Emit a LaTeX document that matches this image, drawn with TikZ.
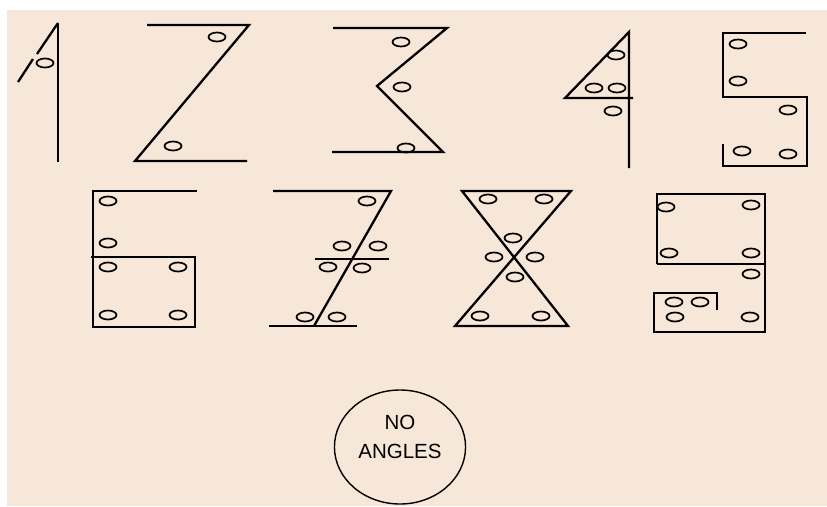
\documentclass[tikz,border=0pt]{standalone}
\usepackage{fontspec}
\setmainfont{Liberation Sans}
\usepackage{tikz}
\usetikzlibrary{shapes.geometric}
\definecolor{paper}{RGB}{247,231,217}

\begin{document}
\begin{tikzpicture}[x=1pt, y=-1pt,
    stroke/.style={draw=black, line width=2.3pt, line join=miter},
    hole/.style={ellipse, draw=black, line width=1.7pt, minimum width=17pt, minimum height=9pt, inner sep=0pt},
    sign/.style={circle, draw=black, line width=1.4pt, minimum size=114pt, xscale=1.15, inner sep=0pt},
    label/.style={font=\fontsize{20.5}{29}\selectfont, align=center}
]
    \useasboundingbox (0,0) rectangle (827,506);
    \fill[paper] (7,10) rectangle (827,506);

    % One
    \draw[stroke] (58,23) -- (58,162);
    \draw[stroke] (58,23) -- (37,54);
    \draw[stroke] (33,59) -- (18,82);
    \node[hole] (one1) at (45,63) {};

    % Two
    \draw[stroke] (147,25) -- (249,25) -- (135,161) -- (247,161);
    \node[hole] (two1) at (217,37) {};
    \node[hole] (two2) at (173,146) {};

    % Three
    \draw[stroke] (333,28) -- (447,28) -- (377,86) -- (443,152) -- (332,152);
    \foreach \p [count=\i] in {(401,42), (402,87), (406,148)}
        \node[hole] (three\i) at \p {};

    % Four
    \draw[stroke] (629,168) -- (629,32) -- (565,98) -- (633,98);
    \foreach \p [count=\i] in {(616,55), (594,88), (617,88), (613,111)}
        \node[hole] (four\i) at \p {};

    % Five
    \draw[stroke] (806,33) -- (723,33) -- (723,97) -- (807,97) -- (807,166) -- (723,166) -- (723,144);
    \foreach \p [count=\i] in {(738,44), (738,81), (788,110), (742,151), (788,154)}
        \node[hole] (five\i) at \p {};

    % Six
    \draw[stroke] (197,191) -- (93,191) -- (93,327) -- (195,327) -- (195,257) -- (91,257);
    \foreach \p [count=\i] in {(108,201), (108,243), (108,267), (178,267), (108,315), (178,315)}
        \node[hole] (six\i) at \p {};

    % Seven
    \draw[stroke] (273,191) -- (391,191) -- (314,326);
    \draw[stroke] (315,259) -- (389,259);
    \draw[stroke] (269,326) -- (357,326);
    \foreach \p [count=\i] in {(367,201), (342,246), (378,246), (328,267), (362,268), (305,317), (337,317)}
        \node[hole] (seven\i) at \p {};

    % Eight
    \draw[stroke] (462,191) -- (571,191) -- (455,326) -- (568,326) -- cycle;
    \foreach \p [count=\i] in {(488,199), (544,199), (513,238), (494,257), (535,257), (515,277), (480,316), (541,316)}
        \node[hole] (eight\i) at \p {};

    % Nine
    \draw[stroke] (657,264) -- (657,194) -- (765,194) -- (765,332) -- (654,332) -- (654,293) -- (717,293) -- (717,310);
    \draw[stroke] (657,264) -- (766,264);
    \foreach \p [count=\i] in {(666,207), (751,205), (669,253), (751,253), (751,274), (674,302), (700,302), (675,317), (750,317)}
        \node[hole] (nine\i) at \p {};

    % Sign
    \node[sign] (sign) at (400,447) {};
    \node[label] (signtext) at (400,437) {NO\\ANGLES};
\end{tikzpicture}
\end{document}
